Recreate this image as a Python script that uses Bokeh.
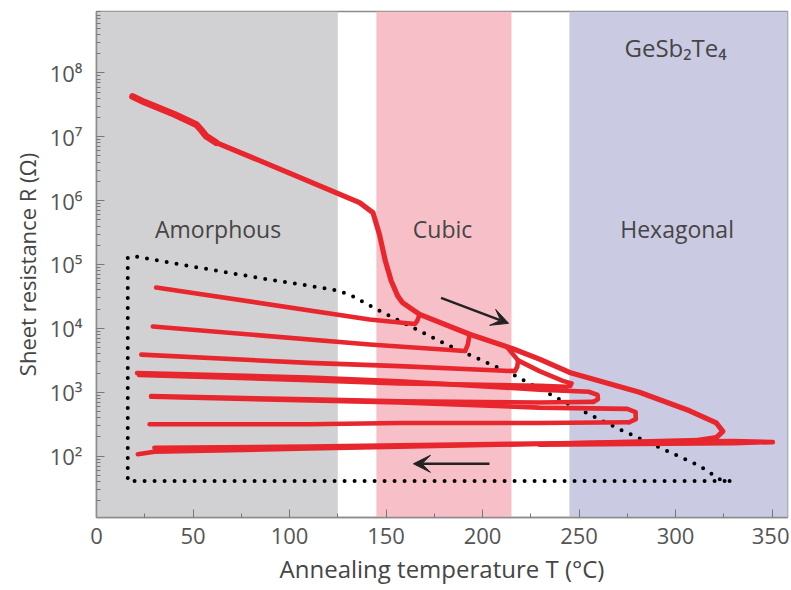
from bokeh.plotting import figure
from bokeh.models import (Range1d, FixedTicker, CustomJSTickFormatter, BoxAnnotation,
                          Arrow, VeeHead)
from bokeh.core.properties import value
from bokeh.embed import file_html
from bokeh.resources import INLINE

# ---------------- data ----------------
# phase regions (°C)
band_left = [0, 145, 245]
band_right = [125, 215, 400]
band_colors = ["#D1D1D3", "#F7C0C8", "#CBCAE3"]

# first heating curve (envelope) and its return at 325 °C
env_T = [18.7, 24.9, 40.4, 51.7, 54.5, 56.8, 62.0, 100.0, 136.3, 143.2, 146.6, 149.7, 152.7,
         156.1, 158.7, 167.4, 193.3, 215.7, 229.5, 245.1, 281.3, 307.3, 321.1, 324.5,
         321.1, 312.4]
env_R = [4.27e7, 3.47e7, 2.24e7, 1.55e7, 1.25e7, 1.02e7, 8.1e6, 2.7e6, 9.3e5, 6.5e5, 2.95e5,
         1.12e5, 5.5e4, 3.2e4, 2.5e4, 1.66e4, 8.1e3, 4.8e3, 3.3e3, 2.04e3, 1.0e3, 513,
         331, 245, 195, 178]
# noisy, thicker start of the first heating run
start_T = [18.7, 24.9, 40.4, 51.7, 54.5, 56.8, 62.0]
start_R = [4.27e7, 3.47e7, 2.24e7, 1.55e7, 1.25e7, 1.02e7, 8.1e6]

# inner heating branch
br_T = [213.0, 218.4, 229.5, 241.6, 246.0]
br_R = [5.0e3, 3.16e3, 2.14e3, 1.51e3, 1.38e3]

# cooling / re-heating lines
c1_T = [167.4, 166.2, 165.0, 141.5, 30.9]
c1_R = [1.66e4, 1.32e4, 1.17e4, 1.38e4, 4.37e4]
c2_T = [193.3, 192.4, 191.0, 141.5, 29.2]
c2_R = [8.1e3, 5.6e3, 4.42e3, 5.6e3, 1.07e4]
c3_T = [218.4, 218.0, 216.8, 157, 110, 23.2]
c3_R = [3.16e3, 2.51e3, 2.14e3, 2.57e3, 2.88e3, 3.89e3]
c4_T = [246.0, 245.5, 243.5, 229.5, 157, 110, 22.0]
c4_R = [1.38e3, 1.26e3, 1.22e3, 1.26e3, 1.38e3, 1.55e3, 1.86e3]
r5_T = [21.0, 110, 157, 229.5, 255, 259.6, 259.8, 257.5]
r5_R = [2.0e3, 1.70e3, 1.48e3, 1.10e3, 1.02e3, 912, 776, 708]
c5_T = [257.5, 229.5, 157, 110, 28.3]
c5_R = [708, 692, 724, 776, 871]
r6_T = [28.3, 157, 229.5, 275, 279.3, 279.4, 276]
r6_R = [851, 692, 575, 550, 490, 380, 339]
c6_T = [276, 229.5, 157, 110, 27.5]
c6_R = [339, 331, 331, 316, 316]
b1_T = [312.4, 229.5, 157, 110, 30, 21.4]
b1_R = [178, 155, 141, 132, 117, 107]
b2_T = [30, 110, 229.5, 330, 350.4, 330, 229.5]
b2_R = [135, 141, 158, 172, 166, 160, 151]

# dotted guide polygon
dot_T = [328.0, 322.8, 312.4, 271.0, 241.6, 215.7, 181.2, 144.9, 131.1, 122.4, 87.9,
         53.4, 19.7, 16.2, 16.2, 328.0]
dot_R = [40.7, 43.7, 70.8, 263, 724, 1905, 5623, 2.0e4, 3.39e4, 4.07e4, 5.89e4,
         8.9e4, 1.35e5, 1.29e5, 40.7, 40.7]

# labels
phase_names = ["Amorphous", "Cubic", "Hexagonal"]
phase_T = [63.0, 179.3, 300.8]
phase_R = [3.55e5, 3.55e5, 3.55e5]
title_text = ["GeSb\u2082Te\u2084"]
title_T = [300.0]
title_R = [2.45e8]

# arrows (start T, start R, end T, end R)
arrow_heat = [178.5, 3.0e4, 213.5, 1.2e4]
arrow_cool = [203.6, 75.9, 164.2, 75.9]

# ticks
x_major = [0, 50, 100, 150, 200, 250, 300, 350]
x_minor = [25, 75, 125, 175, 225, 275, 325]
y_major = [1e2, 1e3, 1e4, 1e5, 1e6, 1e7, 1e8]
y_minor = [k * 10.0 ** d for d in range(1, 9) for k in range(2, 10)]

# ---------------- figure ----------------
FONT = "Open Sans"
RED = "#E8262E"

p = figure(width=789, height=588, y_axis_type="log",
           x_range=Range1d(0, 358), y_range=Range1d(10.96, 9.12e8),
           output_backend="svg", toolbar_location=None,
           min_border_left=96, min_border_right=2, min_border_top=11, min_border_bottom=71)
p.background_fill_color = "white"
p.border_fill_color = "white"
p.grid.visible = False
p.outline_line_color = "#8C8C8C"
p.outline_line_width = 1.5

for l, r, c in zip(band_left, band_right, band_colors):
    p.add_layout(BoxAnnotation(left=l, right=r, fill_color=c, fill_alpha=1.0,
                               line_color=None, level="underlay"))

# dotted guide
p.line(dot_T, dot_R, line_color="black", line_width=4, line_dash="0 10",
       line_cap="round")

lw = 4.6
for xs, ys in [(b1_T, b1_R), (b2_T, b2_R), (c6_T, c6_R), (r6_T, r6_R), (c5_T, c5_R),
               (r5_T, r5_R), (c4_T, c4_R), (c3_T, c3_R), (br_T, br_R), (c2_T, c2_R),
               (c1_T, c1_R)]:
    p.line(xs, ys, line_color=RED, line_width=lw, line_join="round", line_cap="round")
p.line(env_T, env_R, line_color=RED, line_width=5.2, line_join="round", line_cap="round")
p.line(start_T, start_R, line_color=RED, line_width=6.8, line_join="round", line_cap="round")

# arrows
for a in (arrow_heat, arrow_cool):
    p.add_layout(Arrow(end=VeeHead(size=17, fill_color="#222222", line_color="#222222"),
                       x_start=a[0], y_start=a[1], x_end=a[2], y_end=a[3],
                       line_color="#222222", line_width=2.5))

# texts
p.text(x=phase_T, y=phase_R, text=phase_names, text_font=value(FONT),
       text_font_size="23px", text_color="#454545", text_align="center",
       text_baseline="middle")
p.text(x=title_T, y=title_R, text=title_text, text_font=value(FONT),
       text_font_size="24px", text_color="#454545", text_align="center",
       text_baseline="middle")

# axes
p.xaxis.ticker = FixedTicker(ticks=x_major, minor_ticks=x_minor)
p.yaxis.ticker = FixedTicker(ticks=y_major, minor_ticks=y_minor)
p.yaxis.formatter = CustomJSTickFormatter(code="""
const sup = ['\u2070','\u00b9','\u00b2','\u00b3','\u2074','\u2075','\u2076','\u2077','\u2078','\u2079'];
const e = Math.round(Math.log10(tick));
return '10' + sup[e];
""")
for ax in (p.xaxis[0], p.yaxis[0]):
    ax.axis_line_color = "#8C8C8C"
    ax.axis_line_width = 1.5
    ax.major_tick_line_color = "#777777"
    ax.minor_tick_line_color = "#777777"
    ax.major_tick_in = 8
    ax.major_tick_out = 0
    ax.minor_tick_in = 4
    ax.minor_tick_out = 0
    ax.major_label_text_font = FONT
    ax.major_label_text_font_size = "22px"
    ax.major_label_text_color = "#555555"
    ax.axis_label_text_font = FONT
    ax.axis_label_text_font_style = "normal"
    ax.axis_label_text_color = "#454545"
p.xaxis.axis_label = "Annealing temperature T (°C)"
p.yaxis.axis_label = "Sheet resistance R (Ω)"
p.xaxis.axis_label_text_font_size = "24px"
p.yaxis.axis_label_text_font_size = "22px"
p.xaxis.major_label_standoff = 10
p.xaxis.axis_label_standoff = 5
p.yaxis.major_label_standoff = 14
p.yaxis.axis_label_standoff = 5

open("out.html", "w").write(file_html(p, INLINE))
